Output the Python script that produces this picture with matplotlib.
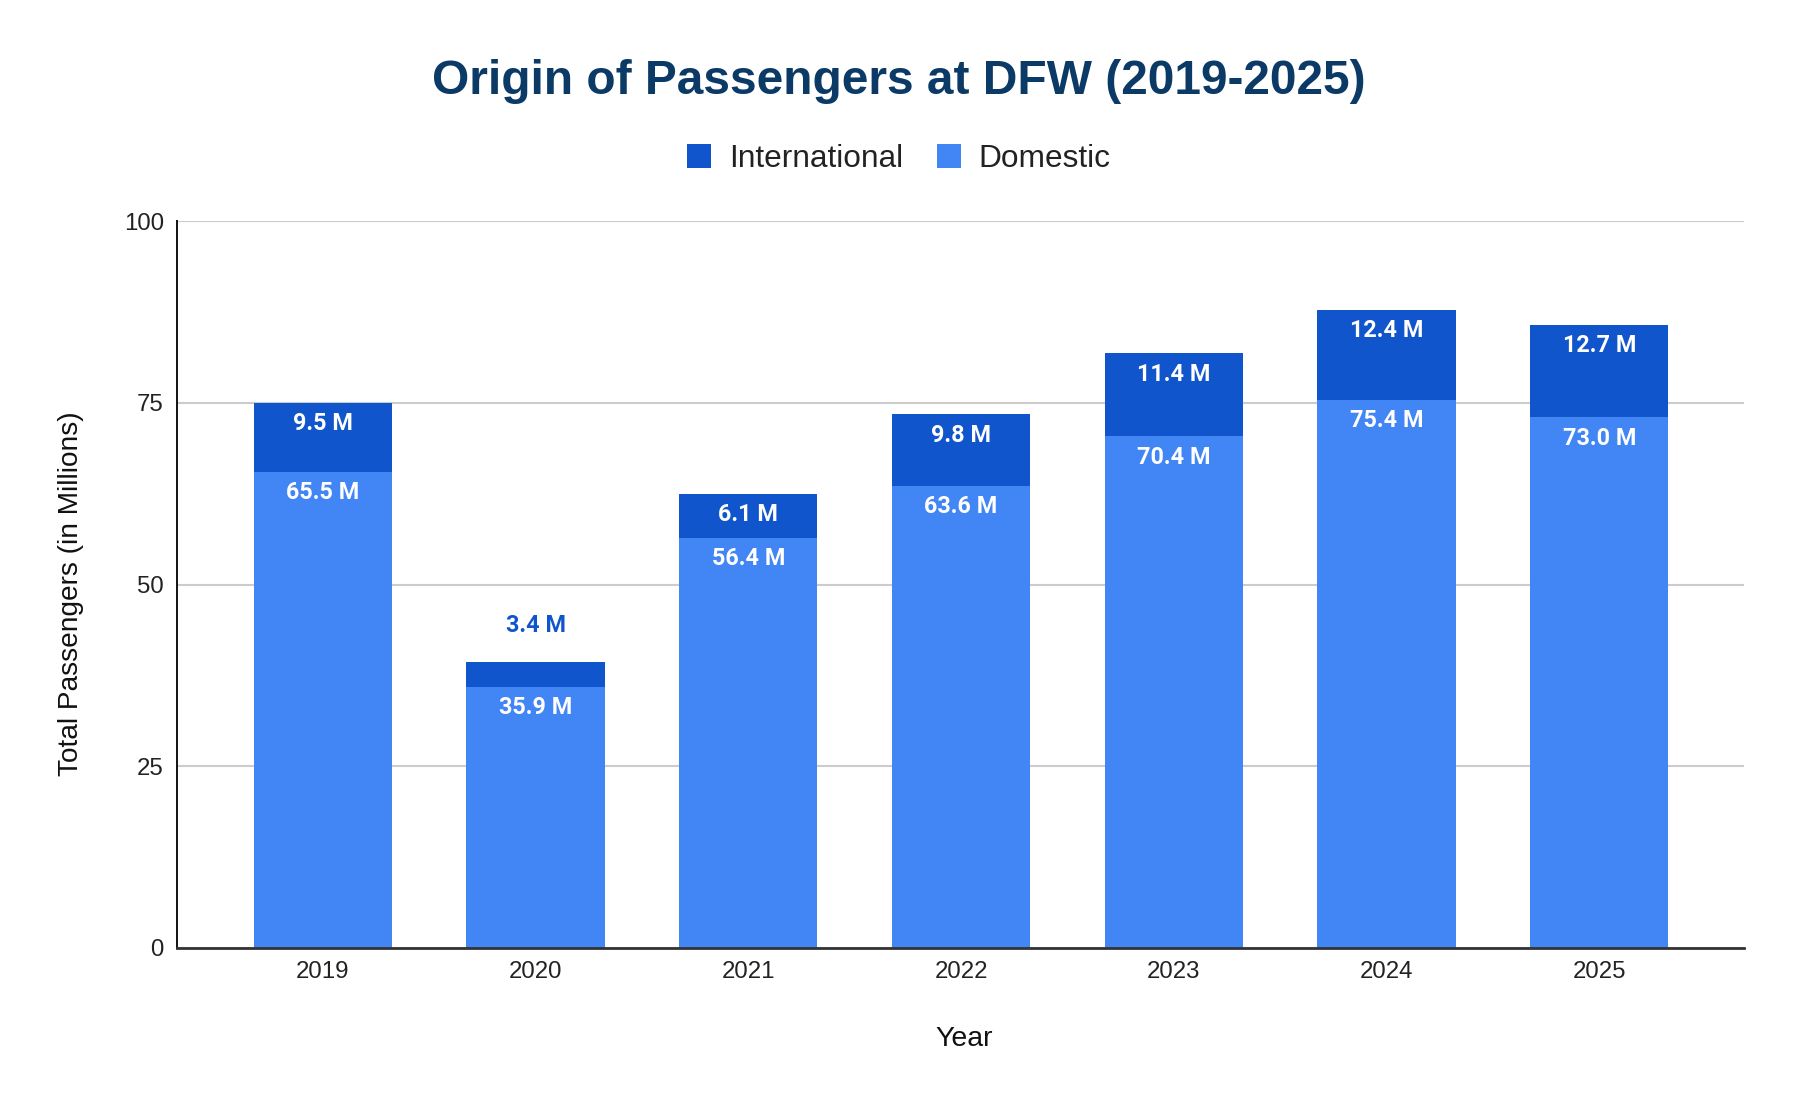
import matplotlib
matplotlib.use("Agg")
import matplotlib.pyplot as plt
from matplotlib.patches import Patch

years = ["2019", "2020", "2021", "2022", "2023", "2024", "2025"]
domestic = [65.5, 35.9, 56.4, 63.6, 70.4, 75.4, 73.0]
international = [9.5, 3.4, 6.1, 9.8, 11.4, 12.4, 12.7]
y_ticks = [0, 25, 50, 75, 100]

C_INT = "#1155CC"
C_DOM = "#4285F4"
TITLE_C = "#0B3A66"
SANS = ["Liberation Sans", "DejaVu Sans"]
LABEL_FONT = ["Roboto", "DejaVu Sans"]

W, H = 1798, 1108
fig = plt.figure(figsize=(W / 100, H / 100), dpi=100)
ax = fig.add_axes([177 / W, 1 - 948 / H, (1744 - 177) / W, (948 - 221) / H])

x = list(range(len(years)))
bw = 0.65
ax.bar(x, domestic, width=bw, color=C_DOM, zorder=3)
ax.bar(x, international, width=bw, bottom=domestic, color=C_INT, zorder=3)

LBL_SIZE = 16.8
for i in x:
    d = domestic[i]
    t = international[i]
    ax.annotate(f"{d:.1f} M", (i, d), xytext=(0, -15), textcoords="offset points",
                ha="center", va="center", color="white", fontsize=LBL_SIZE,
                fontweight="bold", family=LABEL_FONT, zorder=5)
    if t >= 5:
        ax.annotate(f"{t:.1f} M", (i, d + t), xytext=(0, -15), textcoords="offset points",
                    ha="center", va="center", color="white", fontsize=LBL_SIZE,
                    fontweight="bold", family=LABEL_FONT, zorder=5)
    else:
        ax.annotate(f"{t:.1f} M", (i, d + t), xytext=(0, 26.5), textcoords="offset points",
                    ha="center", va="center", color=C_INT, fontsize=LBL_SIZE,
                    fontweight="bold", family=LABEL_FONT, zorder=5)

ax.set_xlim(-0.685, len(years) - 1 + 0.68)
ax.set_ylim(0, 100)
ax.set_yticks(y_ticks)
ax.set_xticks(x)
ax.set_xticklabels(years)
ax.tick_params(axis="both", length=0, labelsize=17.3, colors="#222222", pad=9.5)
for lab in ax.get_xticklabels() + ax.get_yticklabels():
    lab.set_family(SANS)

ax.grid(axis="y", color="#cccccc", linewidth=1.5, zorder=0)
ax.set_axisbelow(True)
for s in ["top", "right"]:
    ax.spines[s].set_visible(False)
ax.spines["left"].set_color("#111111")
ax.spines["left"].set_linewidth(1.4)
ax.spines["bottom"].set_color("#333333")
ax.spines["bottom"].set_linewidth(2.0)
ax.spines["bottom"].set_zorder(4)

fig.text(0.5, 1 - 81 / H, "Origin of Passengers at DFW (2019-2025)", ha="center", va="center",
         fontsize=34.5, fontweight="bold", color=TITLE_C, family=SANS)
fig.text(964 / W, 1 - 1039 / H, "Year", ha="center", va="center", fontsize=20.5,
         color="#111111", family=SANS)
fig.text(71 / W, 1 - 594 / H, "Total Passengers (in Millions)", ha="center", va="center",
         rotation=90, fontsize=20.2, color="#111111", family=SANS)

handles = [Patch(facecolor=C_INT, edgecolor="none", label="International"),
           Patch(facecolor=C_DOM, edgecolor="none", label="Domestic")]
fig.legend(handles=handles, loc="center", bbox_to_anchor=(0.5, 1 - 159 / H), ncol=2,
           frameon=False, prop={"family": SANS, "size": 22.8}, handlelength=0.76,
           handleheight=0.76, handletextpad=0.55, columnspacing=1.08, labelcolor="#222222")

fig.savefig("out.png", dpi=100)
